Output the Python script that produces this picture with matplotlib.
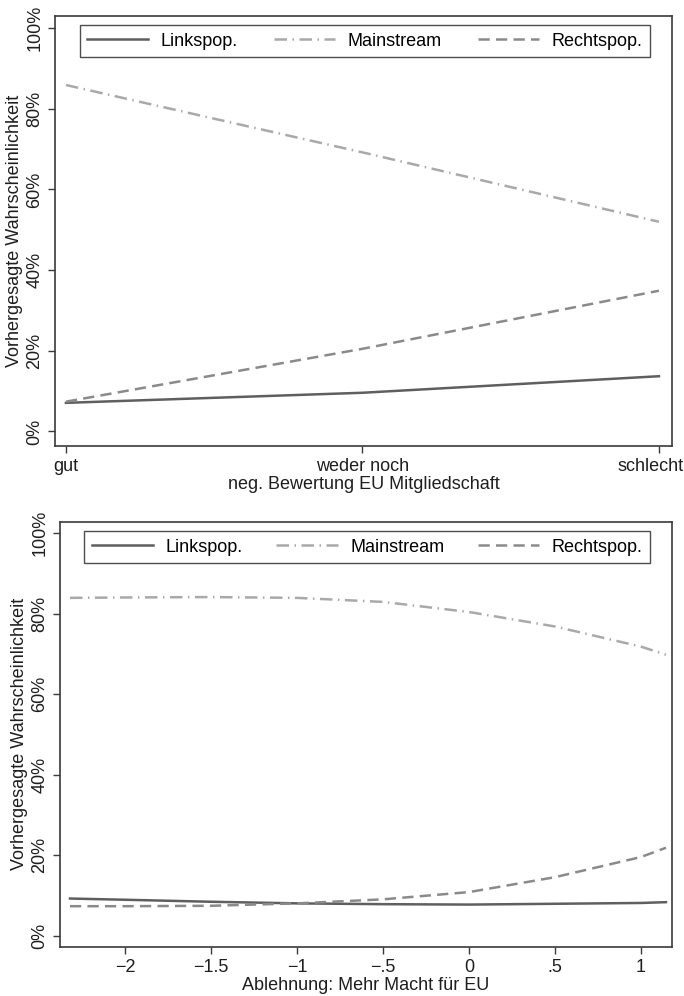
import numpy as np
import matplotlib.pyplot as plt
import matplotlib.transforms as mtrans

plt.rcParams['font.family'] = ['Liberation Sans', 'DejaVu Sans']

# top panel: negative evaluation of EU membership
cat_x = [1, 2, 3]
cat_labels = ['gut', 'weder noch', 'schlecht']
top_links = [7.1, 9.6, 13.7]
top_main = [85.9, 69.2, 52.0]
top_rechts = [7.4, 20.5, 34.9]

# bottom panel: rejection of more power for the EU
macht_x = [-2.32, -2.0, -1.5, -1.0, -0.5, 0.0, 0.5, 1.0, 1.145]
bot_links = [9.3, 9.0, 8.5, 8.1, 7.9, 7.8, 8.0, 8.2, 8.4]
bot_main = [83.9, 84.0, 84.1, 83.9, 82.9, 80.4, 76.8, 71.8, 69.8]
bot_rechts = [7.4, 7.4, 7.5, 8.1, 9.1, 10.9, 14.6, 19.6, 21.9]

series_names = ['Linkspop.', 'Mainstream', 'Rechtspop.']
yticks = [0, 20, 40, 60, 80, 100]
macht_ticks = [-2, -1.5, -1, -0.5, 0, 0.5, 1]
macht_labels = ['\u22122', '\u22121.5', '\u22121', '\u2212.5', '0', '.5', '1']

c_links = '#5f5f5f'
c_main = '#a9a9a9'
c_rechts = '#8a8a8a'
frame = '#3a3a3a'
fs = 13

fig = plt.figure(figsize=(6.84, 9.96), dpi=100)
ax1 = fig.add_axes([0.0804, 0.5522, 0.902, 0.4317])
ax2 = fig.add_axes([0.0877, 0.0495, 0.8947, 0.4267])


def style(ax):
    for s in ax.spines.values():
        s.set_color(frame)
        s.set_linewidth(1.2)
    ax.tick_params(direction='out', length=5, width=1, color=frame,
                   labelsize=fs, labelcolor='#1e1e1e')
    ax.set_yticks(yticks)
    ax.set_yticklabels(['%d%%' % v for v in yticks], rotation=90, va='center')
    ax.set_ylabel('Vorhergesagte Wahrscheinlichkeit', fontsize=fs, color='#1e1e1e',
                  labelpad=2)


def draw(ax, x, links, main, rechts):
    ax.plot(x, links, color=c_links, lw=1.8, ls='-', label=series_names[0])
    ax.plot(x, main, color=c_main, lw=1.8, ls=(0, (5, 2.2, 0.6, 2.2)), label=series_names[1])
    ax.plot(x, rechts, color=c_rechts, lw=1.8, ls=(0, (4.5, 2.5)), label=series_names[2])


def add_legend(ax, y0):
    leg = ax.legend(loc='lower left', bbox_to_anchor=(0.04, y0, 0.924, 0.08),
                    mode='expand', ncol=3, frameon=True, fancybox=False,
                    fontsize=fs, handlelength=3.4, handletextpad=0.7,
                    borderaxespad=0, columnspacing=1.5)
    leg.get_frame().set_edgecolor('#222222')
    leg.get_frame().set_linewidth(1.0)


draw(ax1, cat_x, top_links, top_main, top_rechts)
style(ax1)
ax1.set_xlim(0.963, 3.044)
ax1.set_ylim(-3.6, 103)
ax1.set_xticks(cat_x)
ax1.set_xticklabels(cat_labels)
# keep the last category label inside the figure, as in the original
last = ax1.get_xticklabels()[-1]
last.set_transform(last.get_transform() + mtrans.ScaledTranslation(-8 / 100, 0, fig.dpi_scale_trans))
ax1.set_xlabel('neg. Bewertung EU Mitgliedschaft', fontsize=fs, color='#1e1e1e', labelpad=1)
add_legend(ax1, 0.905)

draw(ax2, macht_x, bot_links, bot_main, bot_rechts)
style(ax2)
ax2.set_xlim(-2.378, 1.18)
ax2.set_ylim(-2.65, 102.8)
ax2.set_xticks(macht_ticks)
ax2.set_xticklabels(macht_labels)
ax2.set_xlabel('Ablehnung: Mehr Macht f\u00fcr EU', fontsize=fs, color='#1e1e1e', labelpad=1)
add_legend(ax2, 0.903)

fig.savefig('out.png', dpi=100)
